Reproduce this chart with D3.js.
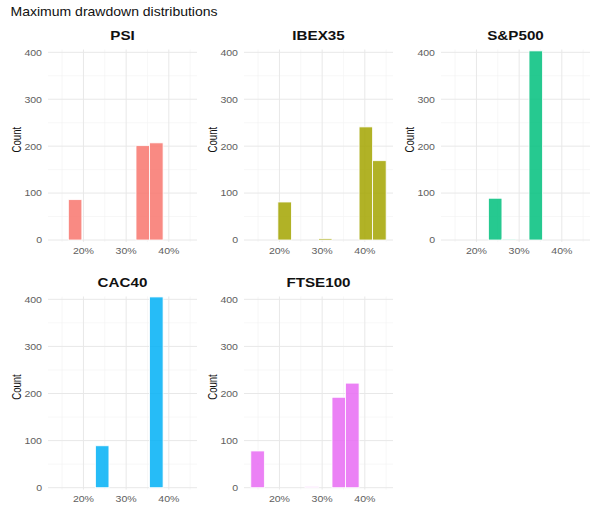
<!DOCTYPE html>
<html><head><meta charset="utf-8">
<script src="https://cdn.jsdelivr.net/npm/d3@7"></script>
<style>
body{margin:0;background:#fff;}
text{font-family:"Liberation Sans",Arial,sans-serif;}
</style></head>
<body><svg id="c" width="600" height="524"></svg>
<script>
// ---- data ----
const titleText = "Maximum drawdown distributions";
const panels = ["PSI","IBEX35","S&P500","CAC40","FTSE100"];
const colors = ["#F8766D","#A3A500","#00BF7D","#00B0F6","#E76BF3"];
const binCenters = [14.88,18.05,21.22,24.39,27.56,30.73,33.90,37.07,40.24,43.41];
const binWidth = 3.17;
const countsPSI   = [0,86,0,0,0,0,201,207,0,0];
const countsIBEX  = [0,0,81,0,0,3,0,0,241,169];
const countsSP    = [0,0,0,89,2,0,403,0,0,0];
const countsCAC   = [0,0,0,89,0,0,0,405,0,0];
const countsFTSE  = [78,0,0,0,2,0,192,222,0,0];
const allCounts = [countsPSI,countsIBEX,countsSP,countsCAC,countsFTSE];
const xTicks = [20,30,40];
const xMinor = [15,25,35,45];
const yTicks = [0,100,200,300,400];
const yMinor = [50,150,250,350];
const yLabel = "Count";

// ---- layout ----
const svg = d3.select("#c");
const SX = 1.15; // horizontal glyph stretch
const colLeft = [48, 244, 441];
const pw = 149;
const rows = [{y0:240, y400:52.3},{y0:487.7, y400:299.3}];

svg.append("text").attr("transform",`translate(10.5,16) scale(${SX},1)`)
  .attr("font-size",12.2).attr("fill","#111").text(titleText);

const x = d3.scaleLinear().domain([11.7,46.6]).range([0,pw]);

panels.forEach((name,i)=>{
  const r = rows[Math.floor(i/3)], cl = colLeft[i%3];
  const y = d3.scaleLinear().domain([0,400]).range([r.y0, r.y400]);
  const g = svg.append("g").attr("transform",`translate(${cl},0)`);
  const yTop = y(406), yBot = y(-4);
  // minor grid
  g.selectAll(".ym").data(yMinor).join("line")
    .attr("x1",0).attr("x2",pw).attr("y1",d=>y(d)).attr("y2",d=>y(d))
    .attr("stroke","#f2f2f2").attr("stroke-width",0.6);
  g.selectAll(".xm").data(xMinor).join("line")
    .attr("y1",yTop).attr("y2",yBot).attr("x1",d=>x(d)).attr("x2",d=>x(d))
    .attr("stroke","#f2f2f2").attr("stroke-width",0.6);
  // major grid
  g.selectAll(".yM").data(yTicks).join("line")
    .attr("x1",0).attr("x2",pw).attr("y1",d=>y(d)).attr("y2",d=>y(d))
    .attr("stroke","#e8e8e8").attr("stroke-width",1);
  g.selectAll(".xM").data(xTicks).join("line")
    .attr("y1",yTop).attr("y2",yBot).attr("x1",d=>x(d)).attr("x2",d=>x(d))
    .attr("stroke","#e8e8e8").attr("stroke-width",1);
  // bars
  const data = binCenters.map((c,k)=>({c, n: allCounts[i][k]})).filter(d=>d.n>0);
  g.selectAll(".bar").data(data).join("rect")
    .attr("x",d=>x(d.c-binWidth/2)).attr("width",d=>x(d.c+binWidth/2)-x(d.c-binWidth/2))
    .attr("y",d=>y(d.n)).attr("height",d=>y(0)-y(d.n))
    .attr("fill",colors[i]).attr("fill-opacity",0.85)
    .attr("stroke","#fff").attr("stroke-width",0.8);
  // y tick labels
  yTicks.forEach(t=>{
    g.append("text").attr("transform",`translate(-6,${y(t)+3.4}) scale(1.1,1)`)
      .attr("text-anchor","end").attr("font-size",9.6).attr("fill","#606060").text(t);
  });
  // x tick labels
  xTicks.forEach(t=>{
    g.append("text").attr("transform",`translate(${x(t)},${r.y0+13.8}) scale(1.1,1)`)
      .attr("text-anchor","middle").attr("font-size",9.6).attr("fill","#606060").text(t+"%");
  });
  // strip title
  g.append("text").attr("transform",`translate(${pw/2},${r.y400-12.7}) scale(${SX},1)`)
    .attr("text-anchor","middle").attr("font-size",13.2).attr("font-weight","bold")
    .attr("fill","#111").text(name);
  // y label
  const cy = (r.y0 + r.y400)/2 - 6.5;
  g.append("text").attr("transform",`translate(-27,${cy}) scale(1.35,1) rotate(-90)`)
    .attr("text-anchor","middle").attr("font-size",9.6).attr("fill","#111").text(yLabel);
});
</script></body></html>
